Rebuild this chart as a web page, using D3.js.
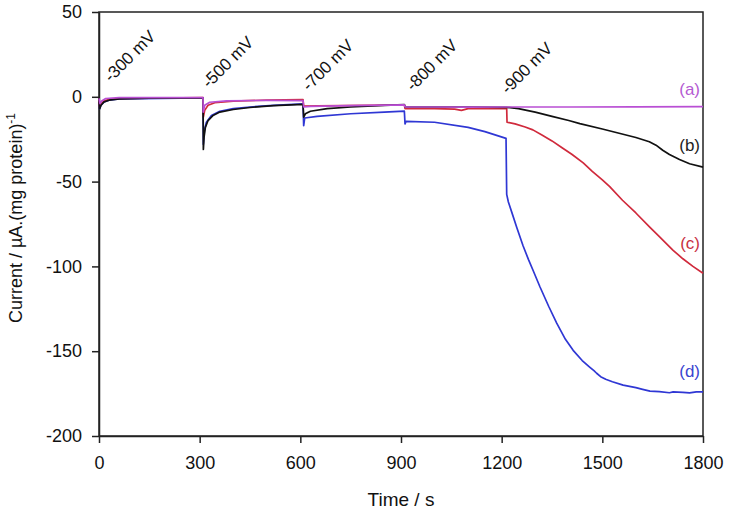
<!DOCTYPE html>
<html>
<head>
<meta charset="utf-8">
<script src="https://cdn.jsdelivr.net/npm/d3@7"></script>
<style>
  html, body { margin: 0; padding: 0; background: #fff; }
  svg { display: block; font-family: Arial, "Liberation Sans", sans-serif; }
</style>
</head>
<body>
<svg id="chart" width="729" height="511"></svg>
<script>
// ---- Data (time in s, current in µA.(mg protein)^-1) ----
const xTicks = [0, 300, 600, 900, 1200, 1500, 1800];
const yTicks = [-200, -150, -100, -50, 0, 50];

const potentialLabels = ["-300 mV", "-500 mV", "-700 mV", "-800 mV", "-900 mV"];

const seriesNames = ["(a)", "(b)", "(c)", "(d)"];

const seriesA = [[0,-1],[3,-4],[8,-2.5],[20,-1],[60,-0.5],[310,-0.4],[310.5,-9],[315,-5],[330,-3.2],[380,-2.4],[500,-2.1],[608,-2.2],
  [610,-6],[630,-5.6],[750,-5.2],[910,-4.8],[912,-6],[1000,-6],[1100,-6.1],[1215,-6],[1400,-6],[1600,-5.9],[1800,-5.8]];

const seriesB = [[0,-1],[2,-7],[6,-5],[15,-3],[30,-2],[60,-1.2],[150,-0.8],[310,-0.6],[311,-31],[313,-24],[317,-18],[325,-14],[340,-11],[360,-9],[400,-7.5],[450,-6.3],[520,-5.2],[608,-4.5],
  [610,-12],[615,-10],[630,-8.5],[680,-7],[750,-6],[850,-5],[910,-4.6],[912,-6],[1000,-6],[1100,-6],[1215,-6.2],[1250,-7],[1300,-9],[1350,-11.5],[1400,-14],[1433,-15.8],[1500,-19],[1550,-21.5],[1600,-24],[1640,-26.5],[1660,-28.5],[1680,-31.5],[1700,-34],[1730,-37],[1760,-39.5],[1800,-41.5]];

const seriesC = [[0,-1],[2,-6],[6,-4],[15,-2.5],[30,-1.5],[60,-1],[310,-0.5],[311,-12],[315,-8],[325,-5],[345,-3.5],[400,-2.5],[500,-2],[608,-1.6],
  [610,-5.5],[650,-5.3],[800,-5],[910,-4.8],[912,-7],[1000,-7],[1060,-7.3],[1080,-8],[1100,-7],[1215,-7],[1216,-15],[1240,-16],[1270,-17.8],[1293,-19.5],[1320,-22.5],[1350,-26],[1380,-30],[1410,-34],[1443,-39],[1470,-44],[1500,-49],[1522,-53],[1560,-61],[1600,-68.5],[1642,-77],[1670,-82.5],[1711,-90.5],[1740,-95.5],[1770,-100],[1800,-104]];

const seriesD = [[0,-1],[2,-7],[6,-5],[15,-3],[30,-2],[60,-1.2],[310,-0.6],[311,-28],[314,-20],[320,-15],[335,-11],[360,-8.5],[400,-7],[450,-6],[520,-5],[608,-4.2],
  [610,-17],[613,-12.5],[650,-11.5],[750,-10],[850,-9],[910,-8.5],[912,-16],[915,-14.5],[1000,-15],[1100,-18],[1150,-20.5],[1213,-24.5],[1215,-57.5],[1220,-62],[1230,-68],[1245,-77],[1264,-88],[1280,-96],[1295,-103],[1314,-112],[1340,-123.5],[1364,-133.5],[1390,-143],[1413,-149.5],[1440,-155.5],[1463,-159.5],[1475,-161.5],[1483,-163],[1495,-165],[1510,-166.5],[1530,-168],[1562,-170],[1600,-171.5],[1620,-172.5],[1642,-173.5],[1670,-173.8],[1700,-174.5],[1711,-174],[1740,-174.3],[1760,-174.6],[1780,-174],[1800,-174]];

const seriesColors = ["#b94fd4", "#111111", "#d02a3c", "#2f37d4"];
const labelColors = ["#b45ad2", "#222222", "#c8303f", "#3a44cf"];

// ---- Layout ----
const annotAnchor = [[111, 83], [209, 89], [309, 92], [413, 92], [508, 95]];
const labelY = [95, 151, 249, 377];

const svg = d3.select("#chart");
const x = d3.scaleLinear().domain([0, 1800]).range([99, 703]);
const y = d3.scaleLinear().domain([-200, 50]).range([436, 12]);

// frame
svg.append("rect")
  .attr("x", x(0)).attr("y", y(50))
  .attr("width", x(1800) - x(0)).attr("height", y(-200) - y(50))
  .attr("fill", "none").attr("stroke", "#222").attr("stroke-width", 1.5);

// axes
const fmt = d => String(d);
const yAxis = svg.append("g")
  .attr("transform", `translate(${x(0)},0)`)
  .call(d3.axisLeft(y).tickValues(yTicks).tickSize(7).tickSizeOuter(0).tickPadding(10).tickFormat(fmt));
const xAxis = svg.append("g")
  .attr("transform", `translate(0,${y(-200)})`)
  .call(d3.axisBottom(x).tickValues(xTicks).tickSize(7).tickSizeOuter(0).tickPadding(13).tickFormat(fmt));
[yAxis, xAxis].forEach(g => {
  g.selectAll("path").attr("stroke", "#222").attr("stroke-width", 1.5);
  g.selectAll("line").attr("stroke", "#222").attr("stroke-width", 1.5);
  g.selectAll("text").attr("font-size", 18).attr("fill", "#111")
    .attr("font-family", "Arial, 'Liberation Sans', sans-serif");
});

// lines
const line = d3.line().x(d => x(d[0])).y(d => y(d[1]));
const allSeries = [seriesA, seriesB, seriesC, seriesD];
const drawOrder = [3, 2, 1, 0];
drawOrder.forEach(i => {
  svg.append("path")
    .datum(allSeries[i])
    .attr("d", line)
    .attr("fill", "none")
    .attr("stroke", seriesColors[i])
    .attr("stroke-width", 1.7)
    .attr("stroke-linejoin", "round");
});

// series labels
seriesNames.forEach((n, i) => {
  svg.append("text")
    .attr("x", x(1800) - 3)
    .attr("y", labelY[i])
    .attr("text-anchor", "end")
    .attr("font-size", 17)
    .attr("fill", labelColors[i])
    .text(n);
});

// potential annotations
potentialLabels.forEach((t, i) => {
  svg.append("text")
    .attr("transform", `translate(${annotAnchor[i][0]},${annotAnchor[i][1]}) rotate(-45)`)
    .attr("font-size", 17)
    .attr("fill", "#111")
    .text(t);
});

// axis titles
svg.append("text")
  .attr("x", (x(0) + x(1800)) / 2)
  .attr("y", 506)
  .attr("text-anchor", "middle")
  .attr("font-size", 19)
  .attr("fill", "#111")
  .text("Time / s");

const yt = svg.append("text")
  .attr("transform", `translate(22,218) rotate(-90)`)
  .attr("text-anchor", "middle")
  .attr("font-size", 18)
  .attr("fill", "#111");
yt.append("tspan").text("Current / µA.(mg protein)");
yt.append("tspan").attr("dy", -7).attr("font-size", 12).text("-1");
</script>
</body>
</html>
